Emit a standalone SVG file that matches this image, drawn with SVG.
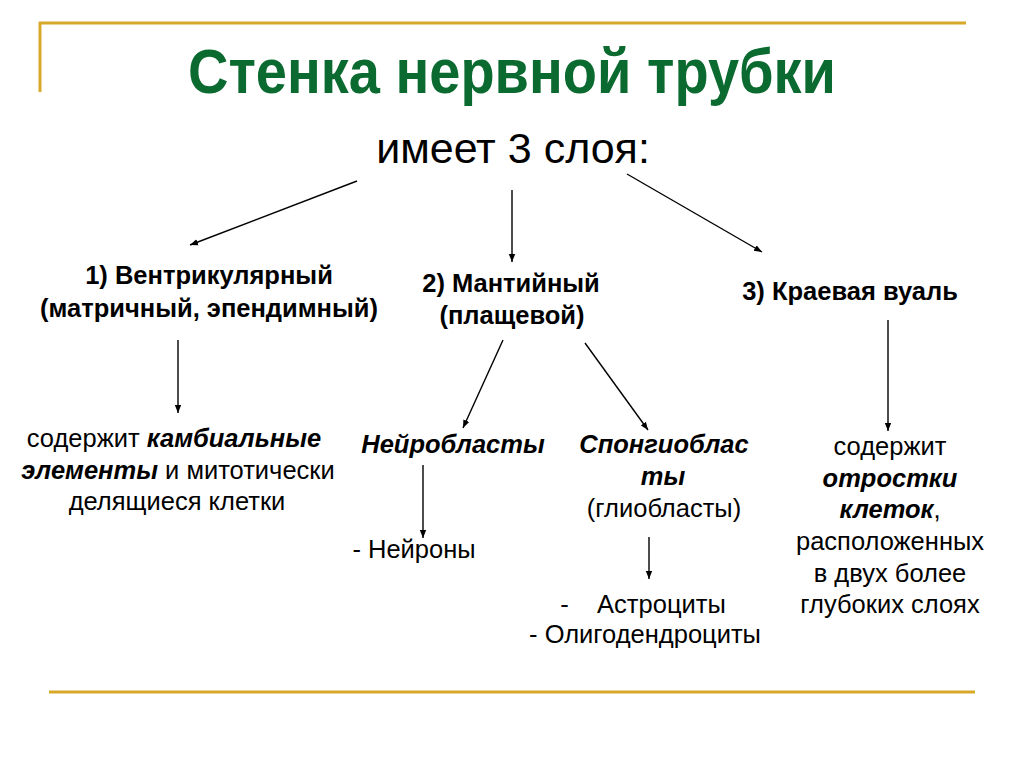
<svg xmlns="http://www.w3.org/2000/svg" width="1024" height="767" viewBox="0 0 1024 767">
<defs>
<marker id="ah" viewBox="0 0 10 10" refX="10" refY="5" markerWidth="8" markerHeight="8" markerUnits="userSpaceOnUse" orient="auto">
<path d="M0,1 L10,5 L0,9 z" fill="#000"/>
</marker>
</defs>
<style>
text{font-family:"Liberation Sans",Arial,sans-serif;fill:#000;text-anchor:middle}
.title{font-size:56px;font-weight:bold;fill:#0b6a30}
.sub{font-size:43px}
.lbl{font-size:25.5px;font-weight:bold}
.body{font-size:25.5px}
.bi{font-weight:bold;font-style:italic}
.deco{stroke:#d8a82a;stroke-width:3;fill:none}
.conn line{stroke:#000;stroke-width:1.4;marker-end:url(#ah)}
</style>
<rect width="1024" height="767" fill="#fff"/>
<g id="frame">
<line class="deco" x1="39" y1="23" x2="966" y2="23"/>
<line class="deco" x1="40" y1="22" x2="40" y2="92" stroke-width="2"/>
<line class="deco" x1="49" y1="692" x2="975" y2="692"/>
</g>
<g id="title"><text class="title" transform="translate(512,93) scale(1,1.12)">Стенка нервной трубки</text></g>
<g id="root"><text class="sub" x="513" y="163">имеет 3 слоя:</text></g>
<g id="n1"><text class="lbl" x="209" y="284">1) Вентрикулярный</text><text class="lbl" x="209" y="317">(матричный, эпендимный)</text></g>
<g id="n2"><text class="lbl" x="511" y="292">2) Мантийный</text><text class="lbl" x="512" y="324">(плащевой)</text></g>
<g id="n3"><text class="lbl" x="850" y="300">3) Краевая вуаль</text></g>
<g id="n1a" class="body">
<text x="174" y="447">содержит <tspan class="bi">камбиальные</tspan></text>
<text x="178" y="479"><tspan class="bi">элементы</tspan> и митотически</text>
<text x="177" y="510">делящиеся клетки</text>
</g>
<g id="n2a" class="body"><text class="bi" x="453" y="453">Нейробласты</text></g>
<g id="n2b" class="body">
<text class="bi" x="664" y="453">Спонгиоблас</text>
<text class="bi" x="663" y="485">ты</text>
<text x="664" y="517">(глиобласты)</text>
</g>
<g id="n2a1" class="body"><text x="414" y="558">- Нейроны</text></g>
<g id="n2b1" class="body">
<text x="643" y="613" xml:space="preserve">-    Астроциты</text>
<text x="645" y="643">- Олигодендроциты</text>
</g>
<g id="n3a" class="body">
<text x="890" y="455">содержит</text>
<text class="bi" x="890" y="487">отростки</text>
<text x="890" y="518"><tspan class="bi">клеток</tspan>,</text>
<text x="890" y="550">расположенных</text>
<text x="890" y="582">в двух более</text>
<text x="890" y="613">глубоких слоях</text>
</g>
<g id="connectors" class="conn">
<line x1="357" y1="181" x2="190" y2="245"/>
<line x1="512" y1="190" x2="512" y2="262"/>
<line x1="627" y1="174" x2="762" y2="252"/>
<line x1="178" y1="340" x2="178" y2="413"/>
<line x1="503" y1="340" x2="463" y2="428"/>
<line x1="585" y1="343" x2="648" y2="430"/>
<line x1="888" y1="320" x2="888" y2="431"/>
<line x1="423" y1="465" x2="423" y2="538"/>
<line x1="649" y1="537" x2="649" y2="579"/>
</g>
</svg>
